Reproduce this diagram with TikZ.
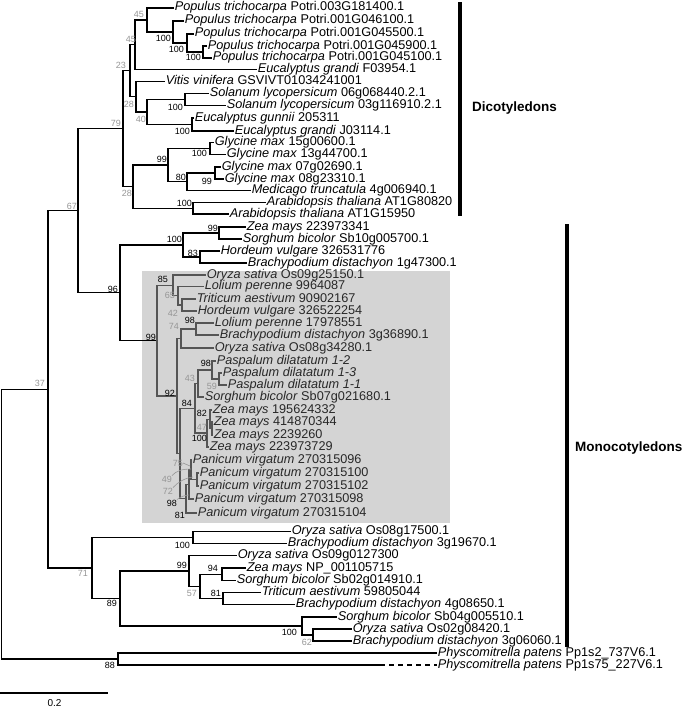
\documentclass[tikz,border=0pt]{standalone}
\usepackage{fontspec}
\setmainfont{Liberation Sans}
\definecolor{bsgrey}{RGB}{150,150,150}
\definecolor{cladeshade}{RGB}{212,212,212}
\definecolor{inline}{RGB}{85,85,85}
\definecolor{intext}{RGB}{40,40,40}
\begin{document}
\begin{tikzpicture}[x=1pt,y=-1pt,
  br/.style={line width=1.25pt, line join=miter},
  brs/.style={br, draw=inline},
  leaf/.style={anchor=west, inner xsep=0.6pt, inner ysep=0pt, font=\fontsize{12.7}{14}\selectfont, text height=8pt, text depth=2pt},
  leafs/.style={leaf, text=intext},
  bs/.style={anchor=east, inner sep=0pt, font=\fontsize{9}{10}\selectfont, text height=6.5pt, text depth=0pt},
  bsg/.style={bs, text=bsgrey},
  clade/.style={anchor=west, inner sep=0pt, font=\bfseries\fontsize{13.5}{15}\selectfont},
  leader/.style={draw=bsgrey, line width=0.6pt}]
\useasboundingbox (0,0) rectangle (685,709);
% shaded clade
\fill[cladeshade] (142,271) rectangle (450,523);

% ---------- internal nodes ----------
\coordinate (P4) at (203,52);
\coordinate (P3) at (187,43);
\coordinate (P2) at (173,32);
\coordinate (P1) at (147,20);
\coordinate (P0) at (135,44.75);
\coordinate (Sol) at (185,99.5);
\coordinate (Euc) at (192,124.5);
\coordinate (N40) at (147,112);
\coordinate (N28a) at (136,96.75);
\coordinate (N23) at (130,70.75);
\coordinate (G100) at (210,148.5);
\coordinate (G99b) at (215,173);
\coordinate (N80) at (187,181.75);
\coordinate (G99) at (168,165.1);
\coordinate (A100) at (193,208.25);
\coordinate (N28b) at (133,186.7);
\coordinate (N79) at (123,128.7);
\coordinate (Z99) at (219,233);
\coordinate (M83) at (200,257);
\coordinate (M100) at (183,245);
\coordinate (S42) at (182,305);
\coordinate (S65) at (178,295.75);
\coordinate (S85) at (173,285.4);
\coordinate (S98a) at (196,329);
\coordinate (S74) at (181,338.5);
\coordinate (S59) at (219,379);
\coordinate (S98b) at (212,370);
\coordinate (S43) at (198,383.5);
\coordinate (Z47) at (212,428.5);
\coordinate (Z82) at (210,419.25);
\coordinate (Z100) at (207,433.1);
\coordinate (S84) at (195,408.3);
\coordinate (Pan49) at (197,479.5);
\coordinate (Pan75) at (191,469.75);
\coordinate (Pan72) at (189,484.4);
\coordinate (Pan81) at (186,498.7);
\coordinate (SX) at (180,453.5);
\coordinate (S92) at (177,396);
\coordinate (S99) at (157,340.7);
\coordinate (N96) at (120,292.8);
\coordinate (N67) at (78,210.8);
\coordinate (B100a) at (193,537.5);
\coordinate (B94) at (222,574.25);
\coordinate (B81) at (223,598.5);
\coordinate (B57) at (200,586.4);
\coordinate (B99) at (189,571);
\coordinate (B62) at (313,635);
\coordinate (B100b) at (302,626);
\coordinate (B89) at (120,598.5);
\coordinate (N71) at (92,568);
\coordinate (N37) at (48,389.4);
\coordinate (B88) at (118,659);
\coordinate (Root) at (1.5,524.2);
\coordinate (d1) at (380,665);

% ---------- leaves ----------
\node[leaf] (l1) at (174,8) {\textit{Populus trichocarpa} Potri.003G181400.1};
\node[leaf] (l2) at (184,21) {\textit{Populus trichocarpa} Potri.001G046100.1};
\node[leaf] (l3) at (194,34) {\textit{Populus trichocarpa} Potri.001G045500.1};
\node[leaf] (l4) at (207,46) {\textit{Populus trichocarpa} Potri.001G045900.1};
\node[leaf] (l5) at (212,58) {\textit{Populus trichocarpa} Potri.001G045100.1};
\node[leaf] (l6) at (257,69.5) {\textit{Eucalyptus grandi} F03954.1};
\node[leaf] (l7) at (165,81.5) {\textit{Vitis vinifera} GSVIVT01034241001};
\node[leaf] (l8) at (209,93.5) {\textit{Solanum lycopersicum} 06g068440.2.1};
\node[leaf] (l9) at (226,105.5) {\textit{Solanum lycopersicum} 03g116910.2.1};
\node[leaf] (l10) at (194,118) {\textit{Eucalyptus gunnii} 205311};
\node[leaf] (l11) at (234,131) {\textit{Eucalyptus grandi} J03114.1};
\node[leaf] (l12) at (214,142.5) {\textit{Glycine max} 15g00600.1};
\node[leaf] (l13) at (226,154.5) {\textit{Glycine max} 13g44700.1};
\node[leaf] (l14) at (221,167) {\textit{Glycine max} 07g02690.1};
\node[leaf] (l15) at (224,179) {\textit{Glycine max} 08g23310.1};
\node[leaf] (l16) at (251,190.5) {\textit{Medicago truncatula} 4g006940.1};
\node[leaf] (l17) at (266,202.5) {\textit{Arabidopsis thaliana} AT1G80820};
\node[leaf] (l18) at (229,214) {\textit{Arabidopsis thaliana} AT1G15950};
\node[leaf] (l19) at (246,227) {\textit{Zea mays} 223973341};
\node[leaf] (l20) at (242,239) {\textit{Sorghum bicolor} Sb10g005700.1};
\node[leaf] (l21) at (220,251) {\textit{Hordeum vulgare} 326531776};
\node[leaf] (l22) at (247,263) {\textit{Brachypodium distachyon} 1g47300.1};
\node[leafs] (l23) at (206,275) {\textit{Oryza sativa} Os09g25150.1};
\node[leafs] (l24) at (204,286.5) {\textit{Lolium perenne} 9964087};
\node[leafs] (l25) at (196,299) {\textit{Triticum aestivum} 90902167};
\node[leafs] (l26) at (197,311) {\textit{Hordeum vulgare} 326522254};
\node[leafs] (l27) at (214,323) {\textit{Lolium perenne} 17978551};
\node[leafs] (l28) at (219,335) {\textit{Brachypodium distachyon} 3g36890.1};
\node[leafs] (l29) at (214,348) {\textit{Oryza sativa} Os08g34280.1};
\node[leafs] (l30) at (216,361) {\textit{Paspalum dilatatum 1-2}};
\node[leafs] (l31) at (222,373) {\textit{Paspalum dilatatum 1-3}};
\node[leafs] (l32) at (227,385) {\textit{Paspalum dilatatum 1-1}};
\node[leafs] (l33) at (204,397) {\textit{Sorghum bicolor} Sb07g021680.1};
\node[leafs] (l34) at (212,410) {\textit{Zea mays} 195624332};
\node[leafs] (l35) at (213,422) {\textit{Zea mays} 414870344};
\node[leafs] (l36) at (213,435) {\textit{Zea mays} 2239260};
\node[leafs] (l37) at (209,447) {\textit{Zea mays} 223973729};
\node[leafs] (l38) at (192,460) {\textit{Panicum virgatum} 270315096};
\node[leafs] (l39) at (199,473) {\textit{Panicum virgatum} 270315100};
\node[leafs] (l40) at (199,486) {\textit{Panicum virgatum} 270315102};
\node[leafs] (l41) at (194,499) {\textit{Panicum virgatum} 270315098};
\node[leafs] (l42) at (197,513) {\textit{Panicum virgatum} 270315104};
\node[leaf] (l43) at (291,531.5) {\textit{Oryza sativa} Os08g17500.1};
\node[leaf] (l44) at (287,543.5) {\textit{Brachypodium distachyon} 3g19670.1};
\node[leaf] (l45) at (237,555.5) {\textit{Oryza sativa} Os09g0127300};
\node[leaf] (l46) at (246,568) {\textit{Zea mays} NP\_001105715};
\node[leaf] (l47) at (236,580.5) {\textit{Sorghum bicolor} Sb02g014910.1};
\node[leaf] (l48) at (261,592.5) {\textit{Triticum aestivum} 59805044};
\node[leaf] (l49) at (295,604.5) {\textit{Brachypodium distachyon} 4g08650.1};
\node[leaf] (l50) at (337,617) {\textit{Sorghum bicolor} Sb04g005510.1};
\node[leaf] (l51) at (352,629) {\textit{Oryza sativa} Os02g08420.1};
\node[leaf] (l52) at (352,641) {\textit{Brachypodium distachyon} 3g06060.1};
\node[leaf] (l53) at (437,653) {\textit{Physcomitrella patens} Pp1s2\_737V6.1};
\node[leaf] (l54) at (437,665) {\textit{Physcomitrella patens} Pp1s75\_227V6.1};

% ---------- branches (black) ----------
\draw[br] (P4) |- (l4); \draw[br] (P4) |- (l5);
\draw[br] (P3) |- (l3); \draw[br] (P3) |- (P4);
\draw[br] (P2) |- (l2); \draw[br] (P2) |- (P3);
\draw[br] (P1) |- (l1); \draw[br] (P1) |- (P2);
\draw[br] (P0) |- (P1); \draw[br] (P0) |- (l6);
\draw[br] (Sol) |- (l8); \draw[br] (Sol) |- (l9);
\draw[br] (Euc) |- (l10); \draw[br] (Euc) |- (l11);
\draw[br] (N40) |- (Sol); \draw[br] (N40) |- (Euc);
\draw[br] (N28a) |- (l7); \draw[br] (N28a) |- (N40);
\draw[br] (N23) |- (P0); \draw[br] (N23) |- (N28a);
\draw[br] (G100) |- (l12); \draw[br] (G100) |- (l13);
\draw[br] (G99b) |- (l14); \draw[br] (G99b) |- (l15);
\draw[br] (N80) |- (G99b); \draw[br] (N80) |- (l16);
\draw[br] (G99) |- (G100); \draw[br] (G99) |- (N80);
\draw[br] (A100) |- (l17); \draw[br] (A100) |- (l18);
\draw[br] (N28b) |- (G99); \draw[br] (N28b) |- (A100);
\draw[br] (N79) |- (N23); \draw[br] (N79) |- (N28b);
\draw[br] (N67) |- (N79); \draw[br] (N67) |- (N96);
\draw[br] (N96) |- (M100); \draw[br] (N96) |- (S99);
\draw[br] (M100) |- (Z99); \draw[br] (M100) |- (M83);
\draw[br] (Z99) |- (l19); \draw[br] (Z99) |- (l20);
\draw[br] (M83) |- (l21); \draw[br] (M83) |- (l22);
% shaded clade (grey lines)
\draw[brs] (S99) |- (S85); \draw[brs] (S99) |- (S92);
\draw[brs] (S85) |- (l23); \draw[brs] (S85) |- (S65);
\draw[brs] (S65) |- (l24); \draw[brs] (S65) |- (S42);
\draw[brs] (S42) |- (l25); \draw[brs] (S42) |- (l26);
\draw[brs] (S92) |- (S74); \draw[brs] (S92) |- (SX);
\draw[brs] (S74) |- (S98a); \draw[brs] (S74) |- (l29);
\draw[brs] (S98a) |- (l27); \draw[brs] (S98a) |- (l28);
\draw[brs] (SX) |- (S84); \draw[brs] (SX) |- (Pan81);
\draw[brs] (S84) |- (S43); \draw[brs] (S84) |- (Z100);
\draw[brs] (S43) |- (S98b); \draw[brs] (S43) |- (l33);
\draw[brs] (S98b) |- (l30); \draw[brs] (S98b) |- (S59);
\draw[brs] (S59) |- (l31); \draw[brs] (S59) |- (l32);
\draw[brs] (Z100) |- (Z82); \draw[brs] (Z100) |- (l37);
\draw[brs] (Z82) |- (l34); \draw[brs] (Z82) |- (Z47);
\draw[brs] (Z47) |- (l35); \draw[brs] (Z47) |- (l36);
\draw[brs] (Pan81) |- (Pan72); \draw[brs] (Pan81) |- (l42);
\draw[brs] (Pan72) |- (Pan75); \draw[brs] (Pan72) |- (l41);
\draw[brs] (Pan75) |- (l38); \draw[brs] (Pan75) |- (Pan49);
\draw[brs] (Pan49) |- (l39); \draw[brs] (Pan49) |- (l40);
% lower part
\draw[br] (N37) |- (N67); \draw[br] (N37) |- (N71);
\draw[br] (N71) |- (B100a); \draw[br] (N71) |- (B89);
\draw[br] (B100a) |- (l43); \draw[br] (B100a) |- (l44);
\draw[br] (B89) |- (B99); \draw[br] (B89) |- (B100b);
\draw[br] (B99) |- (l45); \draw[br] (B99) |- (B57);
\draw[br] (B57) |- (B94); \draw[br] (B57) |- (B81);
\draw[br] (B94) |- (l46); \draw[br] (B94) |- (l47);
\draw[br] (B81) |- (l48); \draw[br] (B81) |- (l49);
\draw[br] (B100b) |- (l50); \draw[br] (B100b) |- (B62);
\draw[br] (B62) |- (l51); \draw[br] (B62) |- (l52);
\draw[br] (Root) |- (N37); \draw[br] (Root) |- (B88);
\draw[br] (B88) |- (l53); \draw[br] (B88) |- (d1);
\draw[br, dash pattern=on 5pt off 4pt] (d1) -- (l54);

% ---------- bootstrap values ----------
\node[bsg] (b1) at (144,14) {45};
\node[bs] (b2) at (171,38) {100};
\node[bs] (b3) at (184,49) {100};
\node[bs] (b4) at (201,57) {100};
\node[bsg] (b5) at (136,39) {45};
\node[bsg] (b6) at (126,65) {23};
\node[bsg] (b7) at (134,104) {28};
\node[bsg] (b8) at (146,119) {40};
\node[bs] (b9) at (183,107) {100};
\node[bs] (b10) at (190,131) {100};
\node[bsg] (b11) at (121,123) {79};
\node[bs] (b12) at (167,159) {99};
\node[bs] (b13) at (207,153) {100};
\node[bs] (b14) at (186,177) {80};
\node[bs] (b15) at (212,181) {99};
\node[bsg] (b16) at (132,193) {28};
\node[bs] (b17) at (192,203) {100};
\node[bsg] (b18) at (77,206) {67};
\node[bs] (b19) at (118,289) {96};
\node[bs] (b20) at (182,239) {100};
\node[bs] (b21) at (218,228) {99};
\node[bs] (b22) at (198,253) {83};
\node[bs] (b23) at (156,337) {99};
\node[bs] (b24) at (168,279) {85};
\node[bsg] (b25) at (175,295) {65};
\node[bsg] (b26) at (178,313) {42};
\node[bs] (b27) at (195,320) {98};
\node[bsg] (b28) at (179,326) {74};
\node[bs] (b29) at (211,363) {98};
\node[bsg] (b30) at (195,378) {43};
\node[bsg] (b31) at (217,386) {59};
\node[bs] (b32) at (175,393) {92};
\node[bs] (b33) at (192,403) {84};
\node[bs] (b34) at (207,413) {82};
\node[bsg] (b35) at (207,427) {47};
\node[bs] (b36) at (207,438) {100};
\node[bsg] (b37) at (183,463) {75};
\node[bsg] (b38) at (172,479) {49};
\node[bsg] (b39) at (173,491) {72};
\node[bs] (b40) at (177,503) {98};
\node[bs] (b41) at (185,515) {81};
\node[bsg] (b42) at (45,383) {37};
\node[bsg] (b43) at (88,573) {71};
\node[bs] (b44) at (190,545) {100};
\node[bs] (b45) at (117,603) {89};
\node[bs] (b46) at (187,565) {99};
\node[bs] (b47) at (218,568) {94};
\node[bsg] (b48) at (197,593) {57};
\node[bs] (b49) at (221,593) {81};
\node[bs] (b50) at (297,632) {100};
\node[bsg] (b51) at (312,642) {62};
\node[bs] (b52) at (115,665) {88};

% leader lines for crowded values
\coordinate (k37) at (190,466);
\coordinate (k38) at (191,469);
\coordinate (k39) at (193,477);
\coordinate (k40) at (189,495);
\draw[leader] (b37.east) -- (k37);
\draw[leader] (b38.north east) .. controls (176,471) and (182,469) .. (k38);
\draw[leader] (b39.north east) .. controls (178,482) and (185,478) .. (k39);
\draw[leader] (b40.north east) .. controls (180,497) and (185,495) .. (k40);

% ---------- clade bars ----------
\fill (458,2) rectangle (461.5,216);
\fill (565,224) rectangle (568.5,647);
\node[clade] (dic) at (472,108) {Dicotyledons};
\node[clade] (mon) at (575,448) {Monocotyledons};

% ---------- scale bar ----------
\coordinate (sb0) at (0,693);
\coordinate (sb1) at (108,693);
\draw[br] (sb0) -- (sb1);
\node[inner sep=0pt, font=\fontsize{10}{11}\selectfont] (sbl) at (54.5,703) {0.2};
\end{tikzpicture}
\end{document}
